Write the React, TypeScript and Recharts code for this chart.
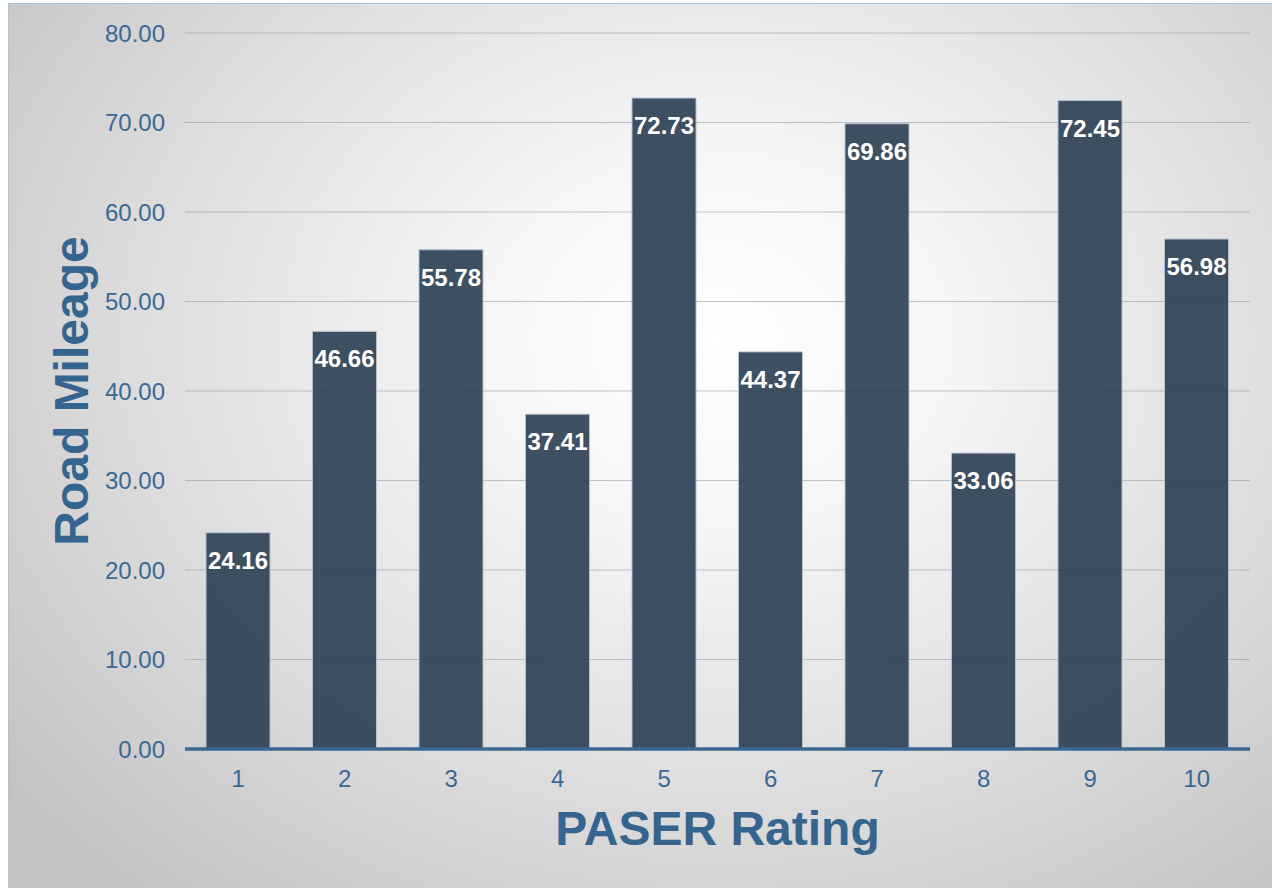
import { Bar, BarChart, CartesianGrid, LabelList, XAxis, YAxis } from 'recharts'

// PASER rating distribution: road mileage per rating (1..10).
const ratings = ['1', '2', '3', '4', '5', '6', '7', '8', '9', '10']
const mileage = [24.16, 46.66, 55.78, 37.41, 72.73, 44.37, 69.86, 33.06, 72.45, 56.98]
const yTicks = [0, 10, 20, 30, 40, 50, 60, 70, 80]

const FONT = '"Liberation Sans", Arial, sans-serif'
const TICK_COLOR = '#3b6894'
const TITLE_COLOR = '#35648f'

const data = ratings.map((r, i) => ({ rating: r, miles: mileage[i] }))

function YTitle({ viewBox }: any) {
  const cx = 79
  const cy = viewBox.y + viewBox.height / 2
  return (
    <text
      x={cx}
      y={cy}
      transform={`rotate(-90, ${cx}, ${cy})`}
      textAnchor="middle"
      fill={TITLE_COLOR}
      fontFamily={FONT}
      fontWeight="bold"
      fontSize={48}
    >
      Road Mileage
    </text>
  )
}

export default function App() {
  return (
    <div
      style={{
        position: 'absolute',
        left: 8,
        top: 3,
        width: 1263,
        height: 884,
        borderLeft: '1px solid #a9c3df',
        borderTop: '1px solid #a9c3df',
        background:
          'radial-gradient(ellipse 72% 82% at 56% 38%, #ffffff 0%, #f6f6f6 25%, #dedede 62%, #c2c2c2 100%)',
        overflow: 'hidden',
      }}
    >
      <BarChart
        width={1263}
        height={884}
        data={data}
        margin={{ top: 29, right: 22, left: 0, bottom: 0 }}
        barSize={64}
      >
        <CartesianGrid vertical={false} stroke="#8fa0b2" strokeOpacity={0.6} />
        <XAxis
          dataKey="rating"
          height={139}
          tickLine={false}
          tickSize={0}
          tickMargin={21}
          axisLine={{ stroke: '#3a6794', strokeWidth: 3.5 }}
          tick={{ fill: TICK_COLOR, fontSize: 24, fontFamily: FONT }}
          label={{
            value: 'PASER Rating',
            position: 'insideBottom',
            offset: 43,
            fill: TITLE_COLOR,
            fontSize: 48,
            fontWeight: 'bold',
            fontFamily: FONT,
          }}
        />
        <YAxis
          width={176}
          domain={[0, 80]}
          ticks={yTicks}
          interval={0}
          axisLine={false}
          tickLine={false}
          tickSize={0}
          tickMargin={20}
          tickFormatter={(v: number) => v.toFixed(2)}
          tick={{ fill: TICK_COLOR, fontSize: 24, fontFamily: FONT }}
          label={{ content: YTitle }}
        />
        <Bar
          dataKey="miles"
          fill="#2e4155"
          fillOpacity={0.92}
          stroke="#b4c0cc"
          strokeWidth={1}
          isAnimationActive={false}
        >
          <LabelList
            dataKey="miles"
            position="insideTop"
            offset={19}
            fill="#ffffff"
            fontSize={24}
            fontWeight="bold"
            fontFamily={FONT}
            formatter={(v: any) => Number(v).toFixed(2)}
          />
        </Bar>
      </BarChart>
    </div>
  )
}
